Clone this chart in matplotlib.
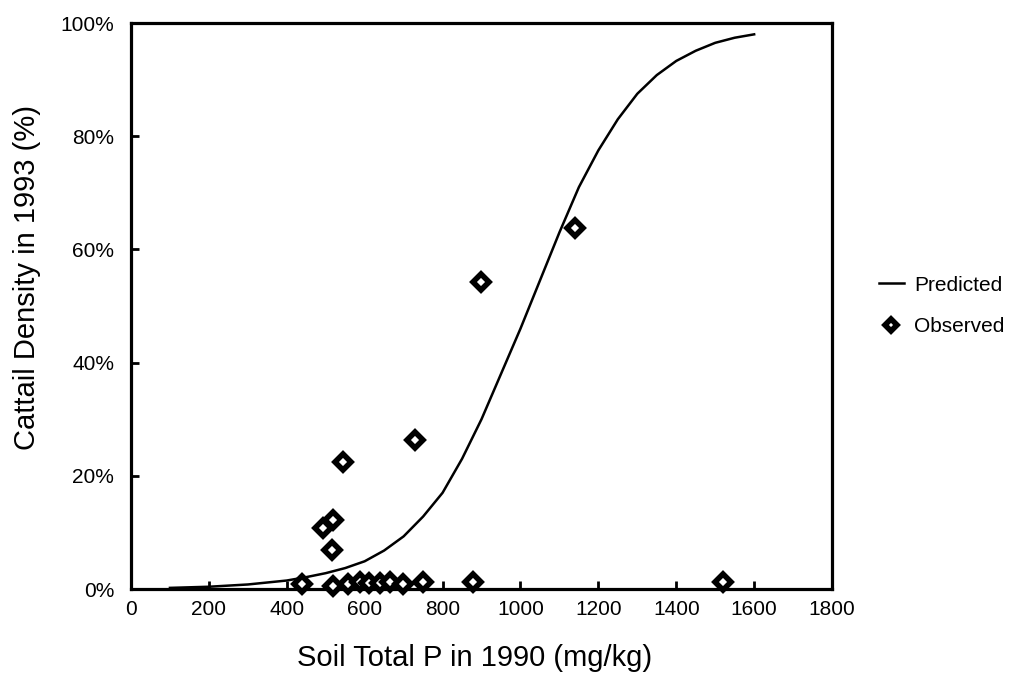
import matplotlib
matplotlib.use("Agg")
import matplotlib.pyplot as plt
from matplotlib.ticker import FuncFormatter

plt.rcParams['font.family'] = ['Liberation Sans', 'DejaVu Sans']

# predicted curve (soil P mg/kg, density %)
pred_p = [100, 200, 300, 400, 450, 500, 550, 600, 650, 700, 750, 800, 850, 900, 950,
          1000, 1050, 1100, 1150, 1200, 1250, 1300, 1350, 1400, 1450, 1500, 1550, 1600]
pred_density = [0.2, 0.4, 0.8, 1.5, 2.1, 2.8, 3.7, 4.9, 6.8, 9.3, 12.8, 17.0, 23.0, 30.0, 38.0,
                46.0, 54.5, 63.0, 71.0, 77.5, 83.0, 87.5, 90.8, 93.3, 95.1, 96.5, 97.4, 98.0]

# observed sites
obs_p = [494, 519, 516, 544, 729, 899, 1140,
         439, 519, 557, 588, 611, 639, 665, 698, 750, 878, 1520]
obs_density = [10.8, 12.2, 6.9, 22.4, 26.3, 54.2, 63.8,
               0.8, 0.6, 0.8, 1.2, 1.0, 1.0, 1.3, 0.8, 1.2, 1.2, 1.3]

xticks = [0, 200, 400, 600, 800, 1000, 1200, 1400, 1600, 1800]
yticks = [0, 20, 40, 60, 80, 100]

fig = plt.figure(figsize=(10.1, 6.75), dpi=100)
ax = fig.add_axes([0.1297, 0.1274, 0.6941, 0.8385])

ax.plot(pred_p, pred_density, color='black', lw=1.8, label='Predicted')
ax.plot(obs_p, obs_density, ls='none', marker='D', ms=8.5, mfc='white',
        mec='black', mew=4, label='Observed', clip_on=False, zorder=3)

ax.set_xlim(0, 1800)
ax.set_ylim(0, 100)
ax.set_xticks(xticks)
ax.set_yticks(yticks)
ax.yaxis.set_major_formatter(FuncFormatter(lambda v, pos: f"{v:.0f}%"))

for s in ax.spines.values():
    s.set_linewidth(2.3)
ax.tick_params(direction='in', length=6, width=2, labelsize=15, pad=8)
ax.tick_params(axis='y', pad=12)

ax.set_xlabel("Soil Total P in 1990 (mg/kg)", fontsize=21)
ax.set_ylabel("Cattail Density in 1993 (%)", fontsize=21)
ax.xaxis.set_label_coords(0.49, -0.097)
ax.yaxis.set_label_coords(-0.128, 0.55)

leg = ax.legend(loc='center left', bbox_to_anchor=(1.04, 0.5), frameon=False,
                fontsize=15, handlelength=1.2, handletextpad=0.5,
                labelspacing=1.1, markerscale=0.7)

fig.savefig("out.png", dpi=100)
